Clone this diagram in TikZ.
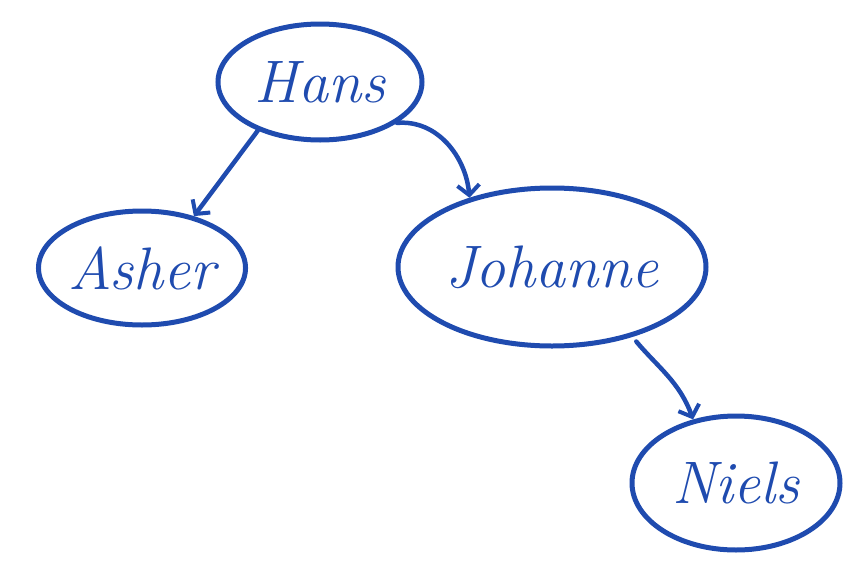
\documentclass[tikz,border=0pt]{standalone}
\usepackage{xcolor}
\usepackage{tikz}
\usetikzlibrary{
    shapes.geometric,
    arrows.meta
}
\definecolor{pen}{HTML}{1F4BAF}
\tikzstyle{person} = [
    ellipse,
    draw=pen,
    line width=5pt,
    inner sep=0pt,
    text=pen,
    font=\fontsize{60}{60}\selectfont\itshape
]
\tikzstyle{arrow} = [
    pen,
    line width=4.5pt,
    line cap=round,
    -{Straight Barb[length=10pt,width=22pt,line width=4pt]}
]

\begin{document}
\begin{tikzpicture}[x=1pt,y=-1pt]
\useasboundingbox (0,0) rectangle (860,576);
\node[person, minimum width=204pt, minimum height=116pt] (hans)    at (320,82)  {Hans};
\node[person, minimum width=196pt, minimum height=114pt] (asher)   at (142,268) {Asher};
\node[person, minimum width=308pt, minimum height=158pt] (johanne) at (552,267) {Johanne};
\node[person, minimum width=208pt, minimum height=134pt] (niels)   at (736,483) {Niels};
\draw[arrow] (hans.218) -- (asher.45);
\draw[arrow] (hans.-28) to[out=5,in=95] (johanne.140);
\draw[arrow, shorten <=6pt] (johanne.-41) to[out=-50,in=110] (niels.124);
\end{tikzpicture}
\end{document}
